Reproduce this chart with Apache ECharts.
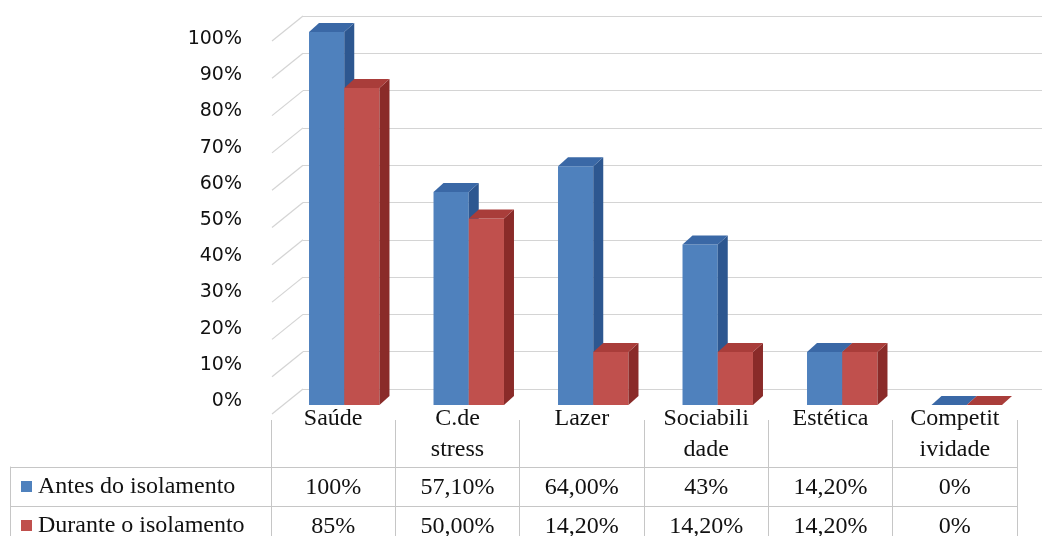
<!DOCTYPE html>
<html>
<head>
<meta charset="utf-8">
<script src="https://cdn.jsdelivr.net/npm/echarts@6/dist/echarts.min.js"></script>
<style>html,body{margin:0;padding:0;background:#fff}#c{width:1042px;height:536px}</style>
</head>
<body>
<div id="c"></div>
<script>
// ---- data ----
const categories = ['Saúde', 'C.de\nstress', 'Lazer', 'Sociabili\ndade', 'Estética', 'Competit\nividade'];
const seriesNames = ['Antes do isolamento', 'Durante o isolamento'];
const antes = [1.00, 0.571, 0.64, 0.43, 0.142, 0];
const durante = [0.85, 0.50, 0.142, 0.142, 0.142, 0];
const antesText = ['100%', '57,10%', '64,00%', '43%', '14,20%', '0%'];
const duranteText = ['85%', '50,00%', '14,20%', '14,20%', '14,20%', '0%'];
const yTicks = [0, 0.1, 0.2, 0.3, 0.4, 0.5, 0.6, 0.7, 0.8, 0.9, 1.0];

// ---- styles ----
const BLUE = {front: '#4F81BD', side: '#2D5790', top: '#3A68A6'};
const RED = {front: '#C0504D', side: '#8A2B29', top: '#A93D3A'};
const GRID_C = '#d4d4d4';
const TABLE_C = '#c6c6c6';
const SERIF = '"Liberation Serif", "Times New Roman", serif';
const SANS = '"DejaVu Sans", Tahoma, sans-serif';
const DEPTH_X = 10, DEPTH_Y = -9;

function bar3d(col, offsetSign) {
  return function (params, api) {
    const i = api.value(0), v = api.value(1);
    const base = api.coord([i, 0]);
    const tp = api.coord([i, v]);
    const band = api.size([1, 0])[0];
    const w = band * 0.283;
    const x0 = offsetSign < 0 ? base[0] - w : base[0];
    const x1 = x0 + w;
    const yb = base[1], yt = tp[1];
    return {
      type: 'group',
      children: [
        {type: 'rect', shape: {x: x0, y: yt, width: w, height: yb - yt}, style: {fill: col.front}},
        {type: 'polygon', shape: {points: [[x1, yt], [x1 + DEPTH_X, yt + DEPTH_Y], [x1 + DEPTH_X, yb + DEPTH_Y], [x1, yb]]}, style: {fill: col.side}},
        {type: 'polygon', shape: {points: [[x0, yt], [x0 + DEPTH_X, yt + DEPTH_Y], [x1 + DEPTH_X, yt + DEPTH_Y], [x1, yt]]}, style: {fill: col.top}}
      ]
    };
  };
}

function cellText(texts) {
  return function (params, api) {
    const p = api.coord([api.value(0), api.value(1)]);
    return {
      type: 'text',
      x: p[0], y: p[1] + 1,
      style: {text: texts[params.dataIndex], fill: '#111', font: '24px ' + SERIF, align: 'center', verticalAlign: 'middle'}
    };
  };
}

const chart = echarts.init(document.getElementById('c'), null, {renderer: 'canvas'});
chart.setOption({
  backgroundColor: '#fff',
  animation: false,
  grid: [
    {left: 303, right: 0, top: 16, height: 373, outerBoundsMode: 'none'},          // 0 back wall
    {left: 250, width: 1, top: 39, height: 362, outerBoundsMode: 'none'},          // 1 y labels
    {left: 282, width: 747, top: 32, height: 373, outerBoundsMode: 'none'},        // 2 bars
    {left: 271, width: 746, top: 467, height: 78, outerBoundsMode: 'none'},        // 3 table rows
    {left: 271, width: 746, top: 420, height: 47, outerBoundsMode: 'none'}         // 4 table header
  ],
  xAxis: [
    {gridIndex: 0, type: 'value', min: 0, max: 1, show: false},
    {gridIndex: 1, type: 'value', min: 0, max: 1, show: false},
    {gridIndex: 2, type: 'category', data: categories, show: false},
    {gridIndex: 3, type: 'category', data: categories,
      axisLine: {show: false}, axisTick: {show: false}, axisLabel: {show: false},
      splitLine: {show: true, interval: 0, lineStyle: {color: TABLE_C, width: 1}}},
    {gridIndex: 4, type: 'category', data: categories, position: 'top',
      axisLine: {show: false}, axisTick: {show: false},
      axisLabel: {show: true, interval: 0, inside: true, margin: -17, fontFamily: SERIF, fontSize: 24, lineHeight: 31, color: '#111'},
      splitLine: {show: true, interval: 0, lineStyle: {color: TABLE_C, width: 1}}}
  ],
  yAxis: [
    {gridIndex: 0, type: 'value', min: 0, max: 1, interval: 0.1,
      axisLine: {show: false}, axisTick: {show: false}, axisLabel: {show: false},
      splitLine: {show: true, lineStyle: {color: GRID_C, width: 1.2}}},
    {gridIndex: 1, type: 'value', min: 0, max: 1, interval: 0.1,
      axisLine: {show: false}, axisTick: {show: false}, splitLine: {show: false},
      axisLabel: {margin: 8, fontFamily: SANS, fontSize: 19, color: '#111', formatter: v => Math.round(v * 100) + '%'}},
    {gridIndex: 2, type: 'value', min: 0, max: 1, show: false},
    {gridIndex: 3, type: 'category', data: seriesNames, inverse: true,
      axisLine: {show: true, lineStyle: {color: TABLE_C}},
      axisTick: {show: true, length: 261, lineStyle: {color: TABLE_C}},
      splitLine: {show: true, lineStyle: {color: TABLE_C, width: 1}},
      axisLabel: {margin: 250, align: 'left', fontFamily: SERIF, fontSize: 24, color: '#111',
        formatter: (v, i) => '{' + (i === 0 ? 'a' : 'd') + '|}{t|' + v + '}',
        rich: {
          a: {width: 11, height: 11, backgroundColor: BLUE.front},
          d: {width: 11, height: 11, backgroundColor: RED.front},
          t: {fontFamily: SERIF, fontSize: 24, color: '#111', padding: [0, 0, 0, 6]}
        }}},
    {gridIndex: 3, type: 'category', data: seriesNames, inverse: true, position: 'left', offset: 261,
      axisLine: {show: true, lineStyle: {color: TABLE_C}}, axisTick: {show: false}, axisLabel: {show: false}, splitLine: {show: false}},
    {gridIndex: 4, type: 'value', show: false}
  ],
  series: [
    {type: 'custom', xAxisIndex: 0, yAxisIndex: 0, silent: true, z: 1,
      data: yTicks.map(t => [0, t]),
      renderItem: function (params, api) {
        const p = api.coord([api.value(0), api.value(1)]);
        return {type: 'line', shape: {x1: p[0] - 31, y1: p[1] + 25, x2: p[0], y2: p[1]}, style: {stroke: GRID_C, lineWidth: 1.2}};
      }},
    {type: 'custom', name: seriesNames[0], xAxisIndex: 2, yAxisIndex: 2, z: 3,
      data: antes.map((v, i) => [i, v]), renderItem: bar3d(BLUE, -1)},
    {type: 'custom', name: seriesNames[1], xAxisIndex: 2, yAxisIndex: 2, z: 4,
      data: durante.map((v, i) => [i, v]), renderItem: bar3d(RED, 1)},
    {type: 'custom', xAxisIndex: 3, yAxisIndex: 3, z: 5,
      data: antes.map((v, i) => [i, 0]), renderItem: cellText(antesText)},
    {type: 'custom', xAxisIndex: 3, yAxisIndex: 3, z: 5,
      data: durante.map((v, i) => [i, 1]), renderItem: cellText(duranteText)}
  ]
});
</script>
</body>
</html>
